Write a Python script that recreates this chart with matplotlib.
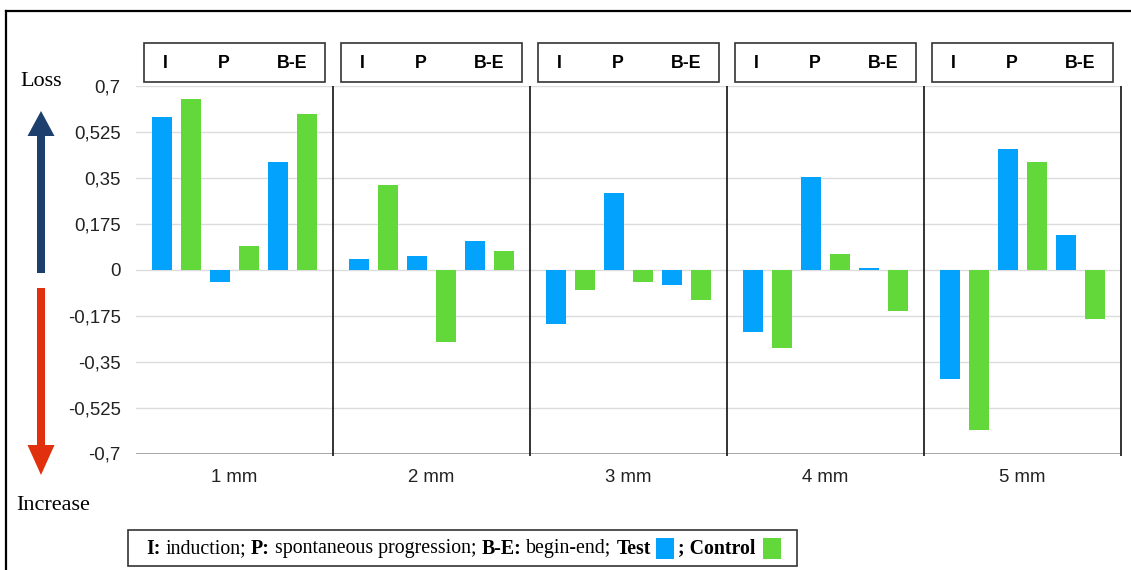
import numpy as np
import matplotlib
matplotlib.use("Agg")
import matplotlib.pyplot as plt
from matplotlib.patches import Rectangle, FancyArrow
from matplotlib.transforms import blended_transform_factory

# data
groups = ["1 mm", "2 mm", "3 mm", "4 mm", "5 mm"]
phases = ["I", "P", "B-E"]
test_vals = [[0.583, -0.048, 0.410],
             [0.041, 0.051, 0.110],
             [-0.207, 0.291, -0.058],
             [-0.237, 0.352, 0.006],
             [-0.418, 0.461, 0.131]]
control_vals = [[0.652, 0.089, 0.593],
                [0.321, -0.277, 0.071],
                [-0.076, -0.048, -0.117],
                [-0.297, 0.061, -0.157],
                [-0.609, 0.410, -0.187]]
yticks = [0.7, 0.525, 0.35, 0.175, 0, -0.175, -0.35, -0.525, -0.7]
ytick_labels = ["0,7", "0,525", "0,35", "0,175", "0", "-0,175", "-0,35", "-0,525", "-0,7"]

blue = "#03A2FD"
green = "#62D83A"
sans = "Liberation Sans"
serif = "Liberation Serif"

W, H = 1131, 570
fig = plt.figure(figsize=(W / 100, H / 100), dpi=100)
fig.patch.set_facecolor("white")

# main plot area
ax = fig.add_axes([136 / W, 1 - 453.5 / H, (1121 - 136) / W, (453.5 - 86) / H])
# overlay in pixel coords for decorations
deco = fig.add_axes([0, 0, 1, 1], zorder=3)
deco.set_xlim(0, W)
deco.set_ylim(H, 0)
deco.axis("off")

pitch, width = 0.147, 0.099
for g in range(len(groups)):
    for p in range(len(phases)):
        xt = g + 0.5 + (2 * p - 2.5) * pitch
        xc = g + 0.5 + (2 * p + 1 - 2.5) * pitch
        ax.bar(xt, test_vals[g][p], width=width, color=blue, zorder=3)
        ax.bar(xc, control_vals[g][p], width=width, color=green, zorder=3)

ax.set_xlim(0, len(groups))
ax.set_ylim(-0.7, 0.7)
ax.set_yticks(yticks)
ax.set_yticklabels(ytick_labels, fontfamily=sans, fontsize=13.4)
ax.set_xticks(np.arange(len(groups)) + 0.5)
ax.set_xticklabels(groups, fontfamily=sans, fontsize=13.4)
ax.tick_params(length=0, colors="#222222")
ax.tick_params(axis="y", pad=11)
ax.tick_params(axis="x", pad=11)
ax.yaxis.grid(True, color="#dcdcdc", lw=1.0, zorder=0)
for s in ax.spines.values():
    s.set_visible(False)
ax.axhline(-0.7, color="#9a9a9a", lw=1.2, zorder=2)
ax.vlines(np.arange(1, len(groups) + 1), -0.71, 0.7, color="#222222",
          lw=1.3, zorder=4, clip_on=False)

# header boxes with phase labels
trans = blended_transform_factory(ax.transData, deco.transData)
label_pos = [0.15, 0.445, 0.79]
for g in range(len(groups)):
    ax.add_patch(Rectangle((g + 0.04, 43), 0.92, 39, transform=trans,
                           fill=False, ec="#333333", lw=1.2, clip_on=False))
    for p, lab in enumerate(phases):
        ax.text(g + label_pos[p], 63, lab, transform=trans, ha="center",
                va="center", fontfamily=sans, fontweight="bold",
                fontsize=12.8, clip_on=False)

# outer frame (top and left)
deco.plot([6, W], [11, 11], color="black", lw=1.6)
deco.plot([6, 6], [11, H], color="black", lw=1.6)

# Loss / Increase arrows
deco.add_patch(FancyArrow(41, 273, 0, -162, width=8, head_width=27,
                          head_length=25, length_includes_head=True,
                          color="#1C3F6E", lw=0))
deco.add_patch(FancyArrow(41, 288, 0, 187, width=8, head_width=27,
                          head_length=30, length_includes_head=True,
                          color="#E0300E", lw=0))
deco.text(41.5, 82, "Loss", ha="center", va="center", fontfamily=serif, fontsize=16)
deco.text(53, 506, "Increase", ha="center", va="center", fontfamily=serif, fontsize=16)

# legend
deco.add_patch(Rectangle((128, 530), 669, 36, fill=False, ec="#333333", lw=1.2))
r = fig.canvas.get_renderer()
lsize = 14.3


def text_w(s, weight):
    t = deco.text(0, 0, s, fontfamily=serif, fontsize=lsize, fontweight=weight)
    w = t.get_window_extent(r).width
    t.remove()
    return w


space = text_w("x x", "normal") - text_w("xx", "normal")
pieces = [("I:", "bold", 1), ("induction;", "normal", 1), ("P:", "bold", 1),
          ("spontaneous progression;", "normal", 1), ("B-E:", "bold", 1),
          ("begin-end;", "normal", 1), ("Test", "bold", 0)]
x = 146
for s, w, gap in pieces:
    t = deco.text(x, 548.5, s, ha="left", va="center", fontfamily=serif,
                  fontsize=lsize, fontweight=w)
    x += t.get_window_extent(r).width + gap * space
deco.add_patch(Rectangle((x + 5, 537.5), 18, 21, color=blue, lw=0))
t = deco.text(x + 27, 548.5, "; Control", ha="left", va="center",
              fontfamily=serif, fontsize=lsize, fontweight="bold")
x = x + 27 + t.get_window_extent(r).width
deco.add_patch(Rectangle((x + 8, 537.5), 18, 21, color=green, lw=0))

fig.savefig("out.png", dpi=100)
